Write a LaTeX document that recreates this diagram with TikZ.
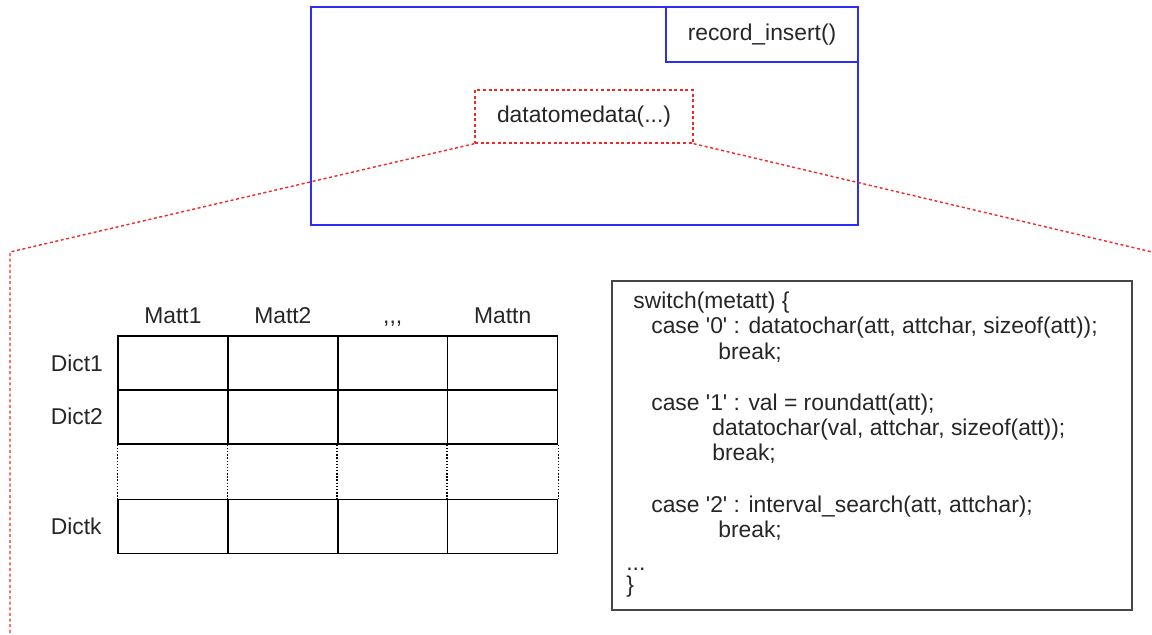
\documentclass[tikz,border=0pt]{standalone}
\usepackage{fontspec}
\setmainfont{Liberation Sans}[Ligatures=TeXOff]
\usepackage{tikz}
\usetikzlibrary{positioning,calc}
\definecolor{recblue}{RGB}{45,45,245}
\definecolor{zoomred}{RGB}{240,40,40}
\definecolor{codegray}{RGB}{70,70,70}
\tikzset{
  recbox/.style={draw=recblue,line width=0.95pt,inner sep=0pt},
  zoomline/.style={draw=zoomred,line width=0.8pt,dash pattern=on 1.7pt off 1.5pt},
  cellbox/.style={draw,line width=0.8pt,minimum width=2.198cm,minimum height=1.08cm,inner sep=0pt},
  rowdots/.style={line width=0.8pt,dash pattern=on 0.8pt off 1pt},
  codebox/.style={draw=codegray,line width=1pt,inner sep=0pt},
  lbl/.style={inner sep=0pt,text=black!85}
}
\begin{document}
\begin{tikzpicture}[x=0.02cm,y=-0.02cm,font=\fontsize{13}{15}\selectfont]
  \useasboundingbox (0,0) rectangle (1152,635);
  % the calling function and the part that is zoomed
  \node[recbox,minimum width=10.94cm,minimum height=4.36cm] (rec) at (584.5,116) {};
  \node[recbox,lbl,minimum width=3.84cm,minimum height=1.1cm] (ins) at (762,34.5) {record\_insert()};
  \node[zoomline,lbl,minimum width=4.36cm,minimum height=1.06cm] (dmd) at (584,116.5) {datatomedata(...)};
  \coordinate (zl) at (10,252);
  \coordinate (zb) at (10,635);
  \coordinate (zr) at (1152,252);
  \draw[zoomline] (dmd.south west) -- (zl) -- (zb);
  \draw[zoomline] (dmd.south east) -- (zr);
  % dictionary table
  \foreach \c/\lab in {1/Matt1,2/Matt2,3/{,,,},4/Mattn}{
    \pgfmathsetmacro\cx{118+(\c-0.5)*109.9}
    \node[cellbox] (da\c) at (\cx,363) {};
    \node[cellbox] (db\c) at (\cx,417) {};
    \node[cellbox] (dk\c) at (\cx,526.5) {};
    \node[lbl,anchor=base] (mh\c) at (\cx,323) {\lab};
    \draw[rowdots] (db\c.south west) -- (dk\c.north west);
  }
  \draw[rowdots] (db4.south east) -- (dk4.north east);
  \node[lbl,anchor=base west] (dr1) at (50.5,371) {Dict1};
  \node[lbl,anchor=base west] (dr2) at (50.5,424.5) {Dict2};
  \node[lbl,anchor=base west] (drk) at (50.5,534) {Dictk};
  % code of datatomedata
  \node[codebox,minimum width=10.4cm,minimum height=6.58cm] (code) at (872,445.5) {};
  \foreach \xx/\yy/\txt [count=\i] in {
      633/308/{switch(metatt) \{},
      651/333/{case '0' : datatochar(att, attchar, sizeof(att));},
      718/359/{break;},
      651/410/{case '1' : val = roundatt(att);},
      712/435/{datatochar(val, attchar, sizeof(att));},
      712/460/{break;},
      651/512/{case '2' : interval\_search(att, attchar);},
      718/537/{break;},
      626/570/{...},
      626/592/{\}}}{
    \node[lbl,anchor=base west] (cl\i) at (\xx,\yy) {\txt};
  }
\end{tikzpicture}
\end{document}
